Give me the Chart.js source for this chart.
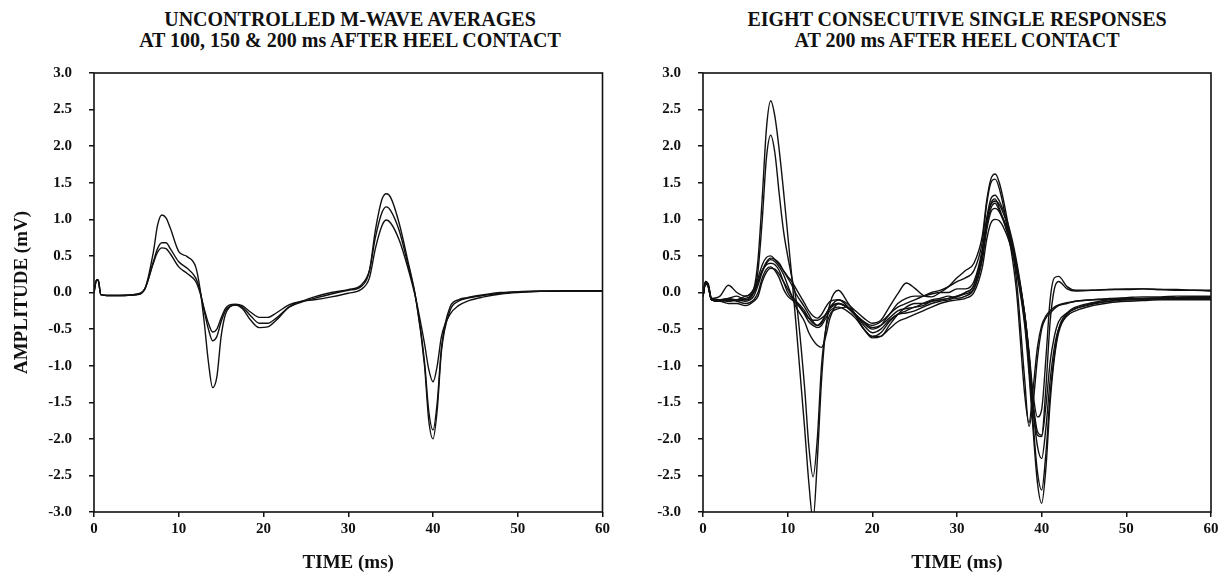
<!DOCTYPE html>
<html>
<head>
<meta charset="utf-8">
<script src="https://cdn.jsdelivr.net/npm/chart.js@4.4.1/dist/chart.umd.min.js"></script>
<style>
  body { margin: 0; background: #fff; width: 1226px; height: 576px; position: relative; overflow: hidden; }
  .title { position: absolute; top: 9px; font-family: "Liberation Serif", serif; font-weight: bold;
           font-size: 20px; line-height: 21px; text-align: center; color: #111; white-space: nowrap; }
  .panel { position: absolute; top: 0; }
</style>
</head>
<body>
<div class="title" style="left:50px;width:600px">UNCONTROLLED M-WAVE AVERAGES<br>AT 100, 150 &amp; 200 ms AFTER HEEL CONTACT</div>
<div class="title" style="left:657px;width:600px">EIGHT CONSECUTIVE SINGLE RESPONSES<br>AT 200 ms AFTER HEEL CONTACT</div>
<div class="panel" style="left:0"><canvas id="leftChart" width="613" height="576"></canvas></div>
<div class="panel" style="left:613px"><canvas id="rightChart" width="613" height="576"></canvas></div>
<script>
// time axis (ms) for the three averaged M-waves
const leftTime = [0, 0.3, 0.5, 0.8, 1.5, 3, 5, 6, 7, 7.5, 8, 8.5, 9, 10, 11, 12, 12.5, 13, 13.5, 14,
  14.5, 15, 15.5, 16, 16.7, 17.5, 18.5, 19.5, 20.5, 21.5, 23, 24.5, 26, 28, 30, 31.5, 32.5, 33.2, 34, 34.5,
  35, 36, 37, 38, 39, 39.5, 40, 40.5, 41, 42, 43, 44, 46, 48, 50, 55, 60];

const avgA = [0, 0.17, 0.17, -0.03, -0.04, -0.04, -0.03, 0.05, 0.55, 0.92, 1.06, 1.02, 0.88, 0.56, 0.49, 0.35, 0.06, -0.4, -0.95, -1.3,
  -1.15, -0.6, -0.3, -0.2, -0.17, -0.22, -0.38, -0.48, -0.47, -0.38, -0.2, -0.13, -0.08, -0.02, 0.03, 0.08, 0.3, 0.85, 1.28, 1.35,
  1.3, 0.95, 0.45, -0.1, -1.0, -1.75, -2.0, -1.6, -0.8, -0.25, -0.12, -0.08, -0.04, -0.01, 0.01, 0.02, 0.02];
const avgB = [0, 0.17, 0.17, -0.03, -0.04, -0.04, -0.03, 0.05, 0.42, 0.6, 0.68, 0.68, 0.6, 0.42, 0.33, 0.2, 0.03, -0.25, -0.5, -0.66,
  -0.6, -0.4, -0.25, -0.19, -0.17, -0.2, -0.32, -0.42, -0.42, -0.35, -0.2, -0.12, -0.06, 0.0, 0.04, 0.1, 0.3, 0.75, 1.1, 1.17,
  1.12, 0.85, 0.4, -0.1, -0.95, -1.62, -1.88, -1.5, -0.75, -0.2, -0.1, -0.07, -0.03, 0.0, 0.01, 0.02, 0.02];
const avgC = [0, 0.17, 0.16, -0.03, -0.04, -0.04, -0.02, 0.05, 0.4, 0.55, 0.61, 0.6, 0.53, 0.35, 0.26, 0.15, 0.0, -0.22, -0.42, -0.54,
  -0.5, -0.35, -0.22, -0.17, -0.16, -0.18, -0.27, -0.34, -0.34, -0.28, -0.17, -0.12, -0.1, -0.06, -0.01, 0.04, 0.2, 0.6, 0.92, 0.99,
  0.95, 0.72, 0.35, -0.1, -0.7, -1.05, -1.22, -1.0, -0.6, -0.3, -0.18, -0.12, -0.06, -0.02, 0.0, 0.02, 0.02];

// time axis (ms) for the eight single responses
const rightTime = [0, 0.3, 0.6, 1, 2, 3, 4, 5, 6,
  6.5, 7, 7.5, 8, 8.5, 9, 9.5, 10, 10.5, 11,
  12, 12.5, 13, 13.5, 14, 14.5, 15,
  16, 17, 18, 19, 20, 21, 22, 23, 24, 25, 26, 27, 28, 29, 30, 31, 32, 33,
  33.5, 34, 34.5, 35,
  36, 37, 38, 38.5, 39, 39.5, 40, 40.5, 41, 41.5, 42,
  43, 44, 46, 48, 50, 52, 54, 56, 58, 60];

const resp1 = [-0.05, 0.14, 0.12, -0.08, -0.1, -0.08, -0.1, -0.08, 0.05,
  0.45, 1.3, 2.25, 2.62, 2.4, 1.95, 1.4, 0.8, 0.2, -0.45,
  -1.85, -2.6, -3.1, -2.3, -1.2, -0.5, -0.15,
  0.03, -0.12, -0.3, -0.5, -0.6, -0.55, -0.4, -0.3, -0.25, -0.2, -0.18, -0.12, -0.1, -0.08, -0.05, 0.0, 0.1, 0.55,
  0.95, 1.22, 1.28, 1.15,
  0.8, 0.3, -0.45, -1.1, -1.9, -2.6, -2.88, -2.4, -1.5, -0.9, -0.55,
  -0.3, -0.22, -0.15, -0.12, -0.1, -0.1, -0.08, -0.08, -0.07, -0.07];
const resp2 = [-0.05, 0.15, 0.12, -0.08, -0.1, -0.12, -0.1, -0.1, 0.0,
  0.3, 1.0, 1.85, 2.15, 1.9, 1.35, 0.85, 0.5, 0.2, -0.1,
  -1.3, -2.1, -2.52, -2.0, -1.0, -0.5, -0.3,
  -0.22, -0.2, -0.3, -0.45, -0.55, -0.5, -0.38, -0.3, -0.28, -0.25, -0.2, -0.15, -0.12, -0.1, -0.06, -0.02, 0.05, 0.5,
  0.9, 1.15, 1.22, 1.12,
  0.85, 0.35, -0.4, -1.0, -1.8, -2.45, -2.7, -2.2, -1.4, -0.85, -0.5,
  -0.28, -0.2, -0.14, -0.1, -0.09, -0.08, -0.08, -0.07, -0.06, -0.06];
const resp3 = [-0.05, 0.15, 0.1, -0.08, -0.05, 0.1, 0.0, -0.05, 0.05,
  0.2, 0.38, 0.48, 0.5, 0.45, 0.38, 0.3, 0.22, 0.15, 0.05,
  -0.15, -0.25, -0.32, -0.35, -0.3, -0.2, -0.12,
  -0.1, -0.15, -0.25, -0.35, -0.42, -0.38, -0.2, -0.02, 0.13, 0.06, -0.04, -0.06, 0.0, 0.08, 0.2, 0.3, 0.4, 0.78,
  1.25, 1.55, 1.62, 1.5,
  0.95, 0.2, -1.2, -1.83, -1.5, -0.9, -0.5, -0.35, -0.28, -0.22, -0.18,
  -0.15, -0.12, -0.1, -0.08, -0.07, -0.06, -0.06, -0.05, -0.05, -0.05];
const resp4 = [-0.05, 0.14, 0.1, -0.1, -0.1, -0.08, -0.05, -0.1, 0.0,
  0.15, 0.3, 0.42, 0.47, 0.45, 0.4, 0.3, 0.2, 0.1, -0.02,
  -0.2, -0.3, -0.4, -0.45, -0.4, -0.3, -0.2,
  -0.15, -0.2, -0.3, -0.42, -0.5, -0.45, -0.3, -0.2, -0.15, -0.1, -0.05, 0.0, 0.03, 0.08, 0.15, 0.2, 0.3, 0.7,
  1.2, 1.5, 1.55, 1.42,
  0.85, 0.05, -1.4, -1.78, -1.3, -0.75, -0.45, -0.32, -0.25, -0.2, -0.17,
  -0.14, -0.12, -0.1, -0.09, -0.08, -0.08, -0.07, -0.07, -0.06, -0.06];
const resp5 = [-0.05, 0.13, 0.1, -0.1, -0.12, -0.1, -0.1, -0.12, -0.05,
  0.1, 0.28, 0.4, 0.45, 0.42, 0.35, 0.25, 0.1, -0.05, -0.2,
  -0.4, -0.55, -0.65, -0.72, -0.75, -0.6, -0.35,
  -0.15, -0.2, -0.32, -0.5, -0.6, -0.6, -0.45, -0.3, -0.2, -0.15, -0.15, -0.12, -0.1, -0.08, -0.05, 0.0, 0.1, 0.55,
  1.0, 1.28, 1.33, 1.25,
  0.95, 0.45, -0.3, -0.8, -1.4, -1.7, -1.6, -0.9, -0.1, 0.2, 0.22,
  0.08, 0.03, 0.03, 0.04, 0.05, 0.05, 0.04, 0.04, 0.03, 0.03];
const resp6 = [-0.05, 0.14, 0.1, -0.1, -0.1, -0.12, -0.1, -0.05, 0.0,
  0.15, 0.3, 0.38, 0.4, 0.38, 0.3, 0.15, 0.0, -0.08, -0.12,
  -0.25, -0.35, -0.42, -0.45, -0.42, -0.3, -0.2,
  -0.1, -0.18, -0.3, -0.4, -0.45, -0.4, -0.3, -0.15, -0.08, -0.05, -0.05, -0.02, 0.0, 0.0, 0.05, 0.05, 0.15, 0.6,
  1.0, 1.2, 1.25, 1.2,
  0.9, 0.4, -0.3, -0.85, -1.5, -1.9, -1.95, -1.3, -0.4, 0.05, 0.15,
  0.05, 0.02, 0.03, 0.04, 0.04, 0.05, 0.04, 0.03, 0.03, 0.02];
const resp7 = [-0.05, 0.12, 0.08, -0.1, -0.12, -0.1, -0.12, -0.15, -0.1,
  0.0, 0.2, 0.32, 0.35, 0.3, 0.2, 0.05, -0.05, -0.1, -0.15,
  -0.28, -0.35, -0.38, -0.38, -0.35, -0.3, -0.22,
  -0.15, -0.2, -0.3, -0.4, -0.48, -0.45, -0.35, -0.25, -0.22, -0.2, -0.15, -0.1, -0.08, -0.05, -0.08, -0.05, 0.05, 0.45,
  0.85, 1.1, 1.15, 1.1,
  0.8, 0.35, -0.35, -0.9, -1.6, -1.95, -1.97, -1.55, -0.95, -0.6, -0.4,
  -0.28, -0.22, -0.16, -0.12, -0.1, -0.09, -0.09, -0.08, -0.08, -0.08];
const resp8 = [-0.05, 0.13, 0.1, -0.1, -0.12, -0.15, -0.15, -0.18, -0.12,
  -0.05, 0.15, 0.28, 0.33, 0.32, 0.25, 0.15, 0.05, -0.05, -0.12,
  -0.3, -0.4, -0.45, -0.48, -0.45, -0.35, -0.25,
  -0.2, -0.25, -0.35, -0.5, -0.62, -0.6, -0.5, -0.4, -0.35, -0.3, -0.25, -0.2, -0.15, -0.12, -0.1, -0.08, 0.0, 0.35,
  0.72, 0.95, 1.0, 0.98,
  0.75, 0.35, -0.3, -0.85, -1.6, -2.1, -2.27, -1.85, -1.2, -0.75, -0.5,
  -0.32, -0.25, -0.18, -0.14, -0.12, -0.11, -0.1, -0.1, -0.1, -0.1];

const xTicks = [0, 10, 20, 30, 40, 50, 60];
const yMin = -3.0, yMax = 3.0, yStep = 0.5;

const ink = '#111';
const serif = 'Liberation Serif';

// box round the plot area
const frame = {
  id: 'frame',
  afterDatasetsDraw(chart) {
    const {ctx, chartArea: {left, top, right, bottom}} = chart;
    ctx.save();
    ctx.strokeStyle = ink;
    ctx.lineWidth = 1.6;
    ctx.strokeRect(left, top, right - left, bottom - top);
    ctx.restore();
  }
};

function makeChart(id, time, series, axisWidth, pad, yTitle) {
  const datasets = series.map(vals => ({
    data: vals.map((v, i) => ({x: time[i], y: v})),
    borderColor: ink,
    borderWidth: 1.4,
    pointRadius: 0,
    fill: false,
    cubicInterpolationMode: 'monotone'
  }));

  return new Chart(document.getElementById(id), {
    type: 'line',
    data: {datasets: datasets},
    options: {
      responsive: false,
      animation: false,
      events: [],
      layout: {padding: pad},
      plugins: {legend: {display: false}, tooltip: {enabled: false}},
      scales: {
        x: {
          type: 'linear', min: 0, max: 60,
          afterBuildTicks: s => { s.ticks = xTicks.map(v => ({value: v})); },
          afterFit: s => { s.height = 64; },
          border: {display: false},
          grid: {drawOnChartArea: false, drawTicks: true, tickLength: 5, color: ink, lineWidth: 1.5},
          ticks: {color: ink, padding: 3, maxRotation: 0, font: {family: serif, size: 15, weight: 'bold'}},
          title: {display: true, text: 'TIME (ms)', color: ink, padding: {top: 0, bottom: 2},
                  font: {family: serif, size: 19, weight: 'bold'}}
        },
        y: {
          min: yMin, max: yMax,
          afterFit: s => { s.width = axisWidth; },
          border: {display: false},
          grid: {drawOnChartArea: false, drawTicks: true, tickLength: 5, color: ink, lineWidth: 1.5},
          ticks: {stepSize: yStep, color: ink, padding: 17, callback: v => v.toFixed(1),
                  font: {family: serif, size: 15, weight: 'bold'}},
          title: {display: !!yTitle, text: yTitle || '', color: ink, padding: {top: 11, bottom: 0},
                  font: {family: serif, size: 19, weight: 'bold'}}
        }
      }
    },
    plugins: [frame]
  });
}

makeChart('leftChart', leftTime, [avgA, avgB, avgC], 94, {left: 0, right: 7, top: 73, bottom: 0}, 'AMPLITUDE (mV)');
makeChart('rightChart', rightTime, [resp1, resp2, resp3, resp4, resp5, resp6, resp7, resp8], 90,
  {left: 0, right: 15, top: 73, bottom: 0}, null);
</script>
</body>
</html>
